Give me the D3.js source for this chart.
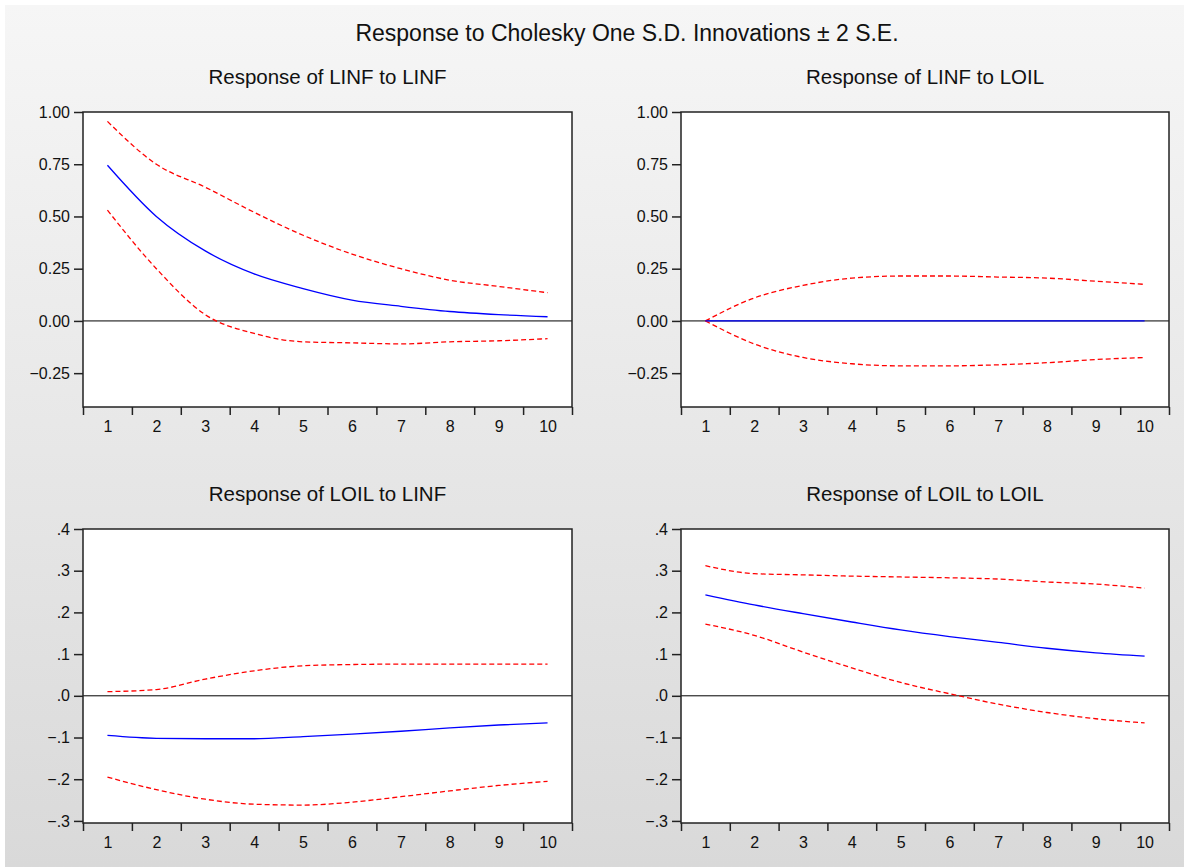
<!DOCTYPE html>
<html>
<head>
<meta charset="utf-8">
<script src="https://cdn.jsdelivr.net/npm/d3@7"></script>
<style>
  body { margin: 0; }
  svg { display: block; }
  text { font-family: "Liberation Sans", Arial, sans-serif; fill: #111; }
</style>
</head>
<body>
<div id="chart"></div>
<script>
const periods = [1, 2, 3, 4, 5, 6, 7, 8, 9, 10];

// Response of LINF to LINF
const linfLinf      = [0.745, 0.50, 0.335, 0.225, 0.155, 0.10, 0.07, 0.045, 0.03, 0.02];
const linfLinfUpper = [0.955, 0.75, 0.64, 0.52, 0.41, 0.32, 0.25, 0.195, 0.165, 0.135];
const linfLinfLower = [0.53, 0.25, 0.03, -0.06, -0.10, -0.105, -0.11, -0.10, -0.095, -0.085];

// Response of LINF to LOIL
const linfLoil      = [0, 0, 0, 0, 0, 0, 0, 0, 0, 0];
const linfLoilUpper = [0, 0.11, 0.17, 0.205, 0.215, 0.215, 0.21, 0.205, 0.19, 0.175];
const linfLoilLower = [0, -0.11, -0.175, -0.205, -0.215, -0.215, -0.21, -0.2, -0.185, -0.175];

// Response of LOIL to LINF
const loilLinf      = [-0.095, -0.102, -0.103, -0.103, -0.098, -0.092, -0.085, -0.077, -0.07, -0.065];
const loilLinfUpper = [0.01, 0.015, 0.04, 0.06, 0.072, 0.075, 0.076, 0.076, 0.076, 0.076];
const loilLinfLower = [-0.195, -0.225, -0.248, -0.26, -0.262, -0.255, -0.242, -0.228, -0.215, -0.205];

// Response of LOIL to LOIL
const loilLoil      = [0.242, 0.218, 0.197, 0.177, 0.158, 0.142, 0.128, 0.114, 0.103, 0.095];
const loilLoilUpper = [0.312, 0.293, 0.29, 0.287, 0.285, 0.283, 0.28, 0.273, 0.268, 0.258];
const loilLoilLower = [0.172, 0.145, 0.105, 0.067, 0.032, 0.005, -0.02, -0.04, -0.055, -0.065];

const topTicks = [-0.25, 0, 0.25, 0.5, 0.75, 1.0];
const bottomTicks = [-0.3, -0.2, -0.1, 0, 0.1, 0.2, 0.3, 0.4];

const W = 1184, H = 867;

const svg = d3.select("#chart").append("svg")
    .attr("width", W)
    .attr("height", H);

const defs = svg.append("defs");
const grad = defs.append("linearGradient")
    .attr("id", "bg")
    .attr("x1", 0).attr("y1", 0).attr("x2", 0).attr("y2", 1);
grad.append("stop").attr("offset", "0%").attr("stop-color", "#f6f6f6");
grad.append("stop").attr("offset", "100%").attr("stop-color", "#d9d9d9");

svg.append("rect").attr("width", W).attr("height", H).attr("fill", "#fff");
svg.append("rect").attr("x", 5).attr("y", 5)
    .attr("width", W - 5).attr("height", H - 5)
    .attr("fill", "url(#bg)");

svg.append("text")
    .attr("x", 627).attr("y", 41)
    .attr("text-anchor", "middle")
    .style("font-size", "23px")
    .text("Response to Cholesky One S.D. Innovations \u00b1 2 S.E.");

const fmtTop = d3.format(".2f");
const fmtBottom = d => d3.format(".1f")(d).replace("0.", ".");

const panels = [
    { title: "Response of LINF to LINF", x0: 83, x1: 572, y0: 112, y1: 407,
      domain: [-0.412, 1.0], ticks: topTicks, fmt: fmtTop,
      mid: linfLinf, upper: linfLinfUpper, lower: linfLinfLower },
    { title: "Response of LINF to LOIL", x0: 681, x1: 1169, y0: 112, y1: 407,
      domain: [-0.412, 1.0], ticks: topTicks, fmt: fmtTop,
      mid: linfLoil, upper: linfLoilUpper, lower: linfLoilLower },
    { title: "Response of LOIL to LINF", x0: 83, x1: 572, y0: 529, y1: 823,
      domain: [-0.305, 0.4], ticks: bottomTicks, fmt: fmtBottom,
      mid: loilLinf, upper: loilLinfUpper, lower: loilLinfLower },
    { title: "Response of LOIL to LOIL", x0: 681, x1: 1169, y0: 529, y1: 823,
      domain: [-0.305, 0.4], ticks: bottomTicks, fmt: fmtBottom,
      mid: loilLoil, upper: loilLoilUpper, lower: loilLoilLower }
];

panels.forEach(p => drawPanel(p));

function drawPanel(p){
    const g = svg.append("g");

    const x = d3.scaleLinear().domain([0.5, 10.5]).range([p.x0, p.x1]);
    const y = d3.scaleLinear().domain(p.domain).range([p.y1, p.y0]);

    g.append("text")
        .attr("x", (p.x0 + p.x1) / 2).attr("y", p.y0 - 28)
        .attr("text-anchor", "middle")
        .style("font-size", "20.5px")
        .text(p.title);

    g.append("rect")
        .attr("x", p.x0).attr("y", p.y0)
        .attr("width", p.x1 - p.x0).attr("height", p.y1 - p.y0)
        .attr("fill", "#fff");

    // zero line
    g.append("line")
        .attr("x1", p.x0).attr("x2", p.x1)
        .attr("y1", y(0)).attr("y2", y(0))
        .attr("stroke", "#000").attr("stroke-width", 1);

    const line = d3.line()
        .x((d, i) => x(periods[i]))
        .y(d => y(d))
        .curve(d3.curveMonotoneX);

    [p.upper, p.lower].forEach(s => {
        g.append("path")
            .attr("d", line(s))
            .attr("fill", "none")
            .attr("stroke", "#ff0000")
            .attr("stroke-width", 1.3)
            .attr("stroke-dasharray", "5,3");
    });

    g.append("path")
        .attr("d", line(p.mid))
        .attr("fill", "none")
        .attr("stroke", "#0000ff")
        .attr("stroke-width", 1.3);

    // frame
    g.append("rect")
        .attr("x", p.x0).attr("y", p.y0)
        .attr("width", p.x1 - p.x0).attr("height", p.y1 - p.y0)
        .attr("fill", "none")
        .attr("stroke", "#222").attr("stroke-width", 1.5);

    // y axis
    const yAxis = g.append("g")
        .attr("transform", `translate(${p.x0},0)`)
        .call(d3.axisLeft(y).tickValues(p.ticks).tickFormat(p.fmt).tickSize(9).tickPadding(4));
    yAxis.select(".domain").remove();
    yAxis.selectAll(".tick line").attr("stroke", "#222").attr("stroke-width", 1.5);
    yAxis.selectAll("text").style("font-size", "16px").style("font-family", null).attr("fill", "#111");

    // x axis: marks between periods, labels at periods
    const bounds = d3.range(0.5, 11, 1);
    const xMarks = g.append("g")
        .attr("transform", `translate(0,${p.y1})`)
        .call(d3.axisBottom(x).tickValues(bounds).tickFormat("").tickSize(8));
    xMarks.select(".domain").remove();
    xMarks.selectAll(".tick line").attr("stroke", "#222").attr("stroke-width", 1.5);

    const xLabels = g.append("g")
        .attr("transform", `translate(0,${p.y1})`)
        .call(d3.axisBottom(x).tickValues(periods).tickFormat(d3.format("d")).tickSize(0).tickPadding(14));
    xLabels.select(".domain").remove();
    xLabels.selectAll("text").style("font-size", "16px").style("font-family", null).attr("fill", "#111");
}
</script>
</body>
</html>
